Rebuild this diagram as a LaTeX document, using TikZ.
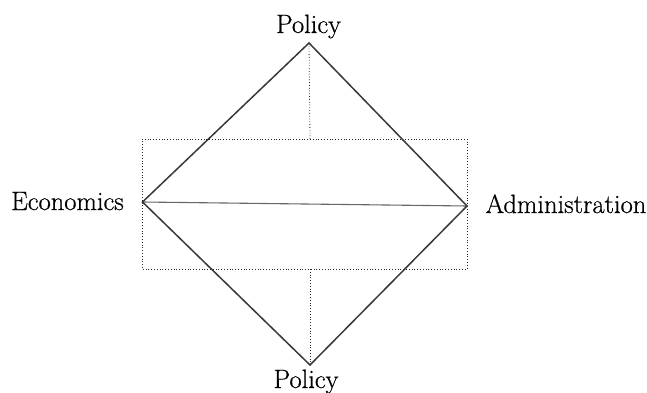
\documentclass[tikz,border=0pt]{standalone}
\usepackage{fontspec}
\setmainfont{Latin Modern Roman}[FakeBold=0.6]
\begin{document}
\begin{tikzpicture}[x=1pt,y=-1pt,
  lbl/.style={font=\fontsize{26.5}{30}\selectfont, inner sep=0pt, anchor=base},
  edge/.style={draw=black!78, line width=1.5pt},
  axis/.style={draw=black!60, line width=1.1pt},
  dots/.style={draw=black!85, line width=0.8pt, dotted}]
\useasboundingbox (0,0) rectangle (647,393);
% vertices
\coordinate (T) at (309,43);
\coordinate (L) at (142.5,202);
\coordinate (R) at (467,206);
\coordinate (B) at (310,365);
% dotted frame
\coordinate (F1) at (142,139);
\coordinate (F2) at (467,139);
\coordinate (F3) at (467,269);
\coordinate (F4) at (142,269);
\coordinate (TM) at (310,139);
\coordinate (BM) at (310,269);
% labels
\node[lbl] (ptop) at (308.5,33) {Policy};
\node[lbl] (pbot) at (306,388) {Policy};
\node[lbl] (eco) at (67.5,210) {Economics};
\node[lbl] (adm) at (566,213) {Administration};
% dotted
\draw[dots] (F1) -- (F2) -- (F3) -- (F4) -- cycle;
\draw[dots] (T) -- (TM);
\draw[dots] (BM) -- (B);
% axis
\draw[axis] (L) -- (R);
% diamond
\draw[edge, line join=miter] (L) -- (T) -- (R) -- (B) -- cycle;
\end{tikzpicture}
\end{document}
